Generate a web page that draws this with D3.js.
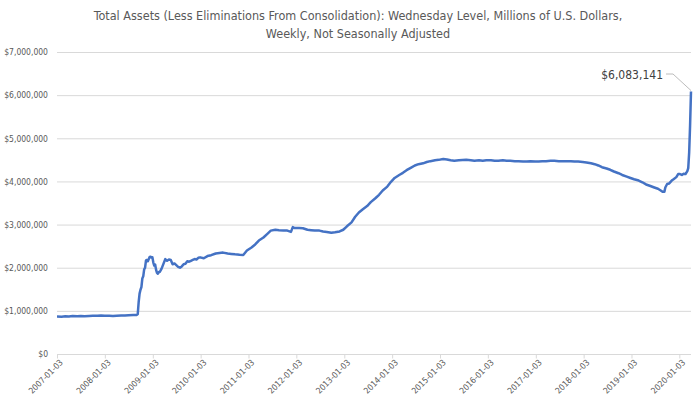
<!DOCTYPE html>
<html>
<head>
<meta charset="utf-8">
<script src="https://cdn.jsdelivr.net/npm/d3@7"></script>
<style>
  body { margin: 0; background: #fff; }
  text { font-family: "Liberation Sans Narrow", "DejaVu Sans Condensed", sans-serif; }
</style>
</head>
<body>
<script>
// weekly dates (Wednesday levels), values in millions of dollars
var dates = [
  "2007-01-03","2007-02-07","2007-03-07","2007-04-04","2007-05-02","2007-06-06","2007-07-04","2007-08-01","2007-09-05","2007-10-03","2007-11-07","2007-12-05",
  "2008-01-02","2008-02-06","2008-03-05","2008-04-02","2008-05-07","2008-06-04","2008-07-02","2008-08-06","2008-09-03","2008-09-10","2008-09-17","2008-09-24",
  "2008-10-01","2008-10-08","2008-10-15","2008-10-22","2008-10-29","2008-11-05","2008-11-12","2008-11-19","2008-11-26","2008-12-03","2008-12-10","2008-12-17","2008-12-24","2008-12-31",
  "2009-01-07","2009-01-14","2009-01-21","2009-01-28","2009-02-04","2009-02-11","2009-02-18","2009-02-25","2009-03-11","2009-03-25","2009-04-08","2009-04-22",
  "2009-05-06","2009-05-20","2009-06-03","2009-06-17","2009-07-01","2009-07-15","2009-07-29","2009-08-12","2009-08-26","2009-09-09","2009-09-23","2009-10-07",
  "2009-10-21","2009-11-04","2009-11-18","2009-12-02","2009-12-16","2009-12-30",
  "2010-01-27","2010-02-24","2010-03-24","2010-04-28","2010-05-26","2010-06-23","2010-07-28","2010-08-25","2010-09-22","2010-10-27","2010-11-24","2010-12-22",
  "2011-01-26","2011-02-23","2011-03-23","2011-04-27","2011-05-25","2011-06-22","2011-07-27","2011-08-24","2011-09-28","2011-10-26","2011-11-23","2011-12-07","2011-12-21",
  "2012-01-25","2012-02-22","2012-03-28","2012-04-25","2012-05-23","2012-06-27","2012-07-25","2012-08-22","2012-09-26","2012-10-24","2012-11-28","2012-12-26",
  "2013-01-23","2013-02-27","2013-03-27","2013-04-24","2013-05-22","2013-06-26","2013-07-24","2013-08-28","2013-09-25","2013-10-23","2013-11-27","2013-12-25",
  "2014-01-22","2014-02-26","2014-03-26","2014-04-23","2014-05-28","2014-06-25","2014-07-23","2014-08-27","2014-09-24","2014-10-22","2014-11-26","2014-12-24",
  "2015-01-28","2015-02-25","2015-03-25","2015-04-22","2015-05-27","2015-06-24","2015-07-22","2015-08-26","2015-09-23","2015-10-28","2015-11-25","2015-12-23",
  "2016-01-27","2016-02-24","2016-03-23","2016-04-27","2016-05-25","2016-06-22","2016-07-27","2016-08-24","2016-09-28","2016-10-26","2016-11-23","2016-12-28",
  "2017-01-25","2017-02-22","2017-03-22","2017-04-26","2017-05-24","2017-06-28","2017-07-26","2017-08-23","2017-09-27","2017-10-25","2017-11-22","2017-12-27",
  "2018-01-24","2018-02-28","2018-03-28","2018-04-25","2018-05-23","2018-06-27","2018-07-25","2018-08-22","2018-09-26","2018-10-24","2018-11-28","2018-12-26",
  "2019-01-23","2019-02-27","2019-03-27","2019-04-24","2019-05-22","2019-06-26","2019-07-24","2019-08-14","2019-08-28","2019-09-11","2019-09-18","2019-10-02",
  "2019-10-16","2019-11-06","2019-11-20","2019-12-11","2019-12-25",
  "2020-01-08","2020-01-22","2020-02-05","2020-02-19","2020-03-04","2020-03-11","2020-03-18","2020-03-25","2020-04-01"
];

var values = [
  870000,866000,874000,872000,878000,873000,880000,876000,882000,885000,889000,893000,
  888000,884000,881000,888000,890000,893000,898000,902000,905000,925000,1200000,1400000,
  1490000,1550000,1750000,1800000,1960000,2000000,2170000,2180000,2150000,2200000,2250000,2256000,2238000,2240000,
  2120000,2050000,2070000,1950000,1880000,1860000,1900000,1900000,1980000,2090000,2200000,2160000,
  2190000,2180000,2080000,2100000,2060000,2020000,2000000,2030000,2080000,2090000,2150000,2140000,
  2160000,2180000,2200000,2190000,2230000,2240000,
  2220000,2270000,2290000,2330000,2340000,2350000,2330000,2320000,2310000,2300000,2295000,2400000,
  2470000,2540000,2630000,2700000,2780000,2860000,2880000,2870000,2860000,2860000,2830000,2940000,2920000,
  2920000,2915000,2880000,2870000,2860000,2860000,2840000,2830000,2810000,2820000,2840000,2880000,
  2960000,3050000,3180000,3280000,3350000,3430000,3520000,3610000,3690000,3790000,3880000,3990000,
  4080000,4150000,4200000,4260000,4320000,4370000,4400000,4420000,4450000,4470000,4490000,4500000,
  4520000,4510000,4490000,4480000,4490000,4495000,4500000,4490000,4480000,4490000,4480000,4490000,
  4490000,4480000,4480000,4490000,4480000,4480000,4470000,4470000,4460000,4460000,4470000,4460000,
  4460000,4470000,4470000,4480000,4480000,4470000,4470000,4470000,4470000,4460000,4460000,4450000,
  4440000,4420000,4400000,4370000,4330000,4300000,4270000,4230000,4190000,4150000,4110000,4080000,
  4050000,4020000,3980000,3930000,3900000,3860000,3830000,3790000,3760000,3760000,3860000,3940000,
  3950000,4020000,4050000,4100000,4170000,
  4170000,4150000,4180000,4170000,4240000,4310000,4670000,5300000,6083141
];

var yTicks = [0, 1000000, 2000000, 3000000, 4000000, 5000000, 6000000, 7000000];
var xTickLabels = ["2007-01-03","2008-01-03","2009-01-03","2010-01-03","2011-01-03","2012-01-03","2013-01-03",
                   "2014-01-03","2015-01-03","2016-01-03","2017-01-03","2018-01-03","2019-01-03","2020-01-03"];

var titleLines = ["Total Assets (Less Eliminations From Consolidation): Wednesday Level, Millions of U.S. Dollars,",
                  "Weekly, Not Seasonally Adjusted"];
var lastLabel = "$6,083,141";

var width = 697,
    height = 399;

var parse = d3.timeParse("%Y-%m-%d");
var data = dates.map(function(d, i) { return {date: parse(d), value: values[i]}; });

var svg = d3.select("body")
      .append("svg")
      .attr("width", width)
      .attr("height", height);

//scales, date axis from first tick to last point
var x = d3.scaleTime()
      .domain([parse("2007-01-03"), parse("2020-04-01")])
      .range([57, 691]);

var y = d3.scaleLinear()
      .domain([0, 7000000])
      .range([354, 52]);

//title
svg.append("g")
    .selectAll("text")
    .data(titleLines)
    .enter()
    .append("text")
    .attr("x", 358)
    .attr("y", function(d, i) { return 20 + i * 18; })
    .attr("text-anchor", "middle")
    .attr("fill", "#595959")
    .style("font-size", "12.5px")
    .text(function(d) { return d; });

//gridlines
svg.append("g")
    .selectAll("line")
    .data(yTicks.slice(1))
    .enter()
    .append("line")
    .attr("x1", 57)
    .attr("x2", 691)
    .attr("y1", function(d) { return y(d) + 0.5; })
    .attr("y2", function(d) { return y(d) + 0.5; })
    .attr("stroke", "#d9d9d9");

//y axis labels
var yAxis = d3.axisLeft(y)
      .tickValues(yTicks)
      .tickSize(0)
      .tickPadding(9)
      .tickFormat(function(d) { return "$" + d3.format(",")(d); });

var yg = svg.append("g")
      .attr("transform", "translate(57,0)")
      .call(yAxis);
yg.select(".domain").remove();
yg.selectAll("text")
    .attr("fill", "#595959")
    .style("font-size", "8.5px")
    .style("font-family", "'Liberation Sans Narrow', 'DejaVu Sans Condensed', sans-serif");

//x axis with year ticks
var xAxis = d3.axisBottom(x)
      .tickValues(xTickLabels.map(parse))
      .tickSize(4)
      .tickFormat(d3.timeFormat("%Y-%m-%d"));

var xg = svg.append("g")
      .attr("transform", "translate(0," + (y(0) + 0.5) + ")")
      .call(xAxis);
xg.select(".domain")
    .attr("d", "M57,0H691")
    .attr("stroke", "#d9d9d9");
xg.selectAll(".tick line").attr("stroke", "#d9d9d9");
xg.selectAll(".tick text")
    .attr("fill", "#595959")
    .attr("text-anchor", "end")
    .attr("dx", "-0.2em")
    .attr("dy", "0.5em")
    .attr("transform", "rotate(-45)")
    .attr("y", 6)
    .style("font-size", "8.5px")
    .style("font-family", "'Liberation Sans Narrow', 'DejaVu Sans Condensed', sans-serif");

//the line
var line = d3.line()
      .x(function(d) { return x(d.date); })
      .y(function(d) { return y(d.value); });

svg.append("path")
    .datum(data)
    .attr("fill", "none")
    .attr("stroke", "#4472c4")
    .attr("stroke-width", 2.5)
    .attr("stroke-linejoin", "round")
    .attr("d", line);

//label for the last point
var last = data[data.length - 1];
svg.append("path")
    .attr("d", "M" + 666 + "," + 74 + "H" + 673 + "L" + x(last.date) + "," + (y(last.value) - 1))
    .attr("fill", "none")
    .attr("stroke", "#a6a6a6")
    .attr("stroke-width", 0.75);

svg.append("text")
    .attr("x", 663)
    .attr("y", 79)
    .attr("text-anchor", "end")
    .attr("fill", "#404040")
    .style("font-size", "12px")
    .text(lastLabel);
</script>
</body>
</html>
